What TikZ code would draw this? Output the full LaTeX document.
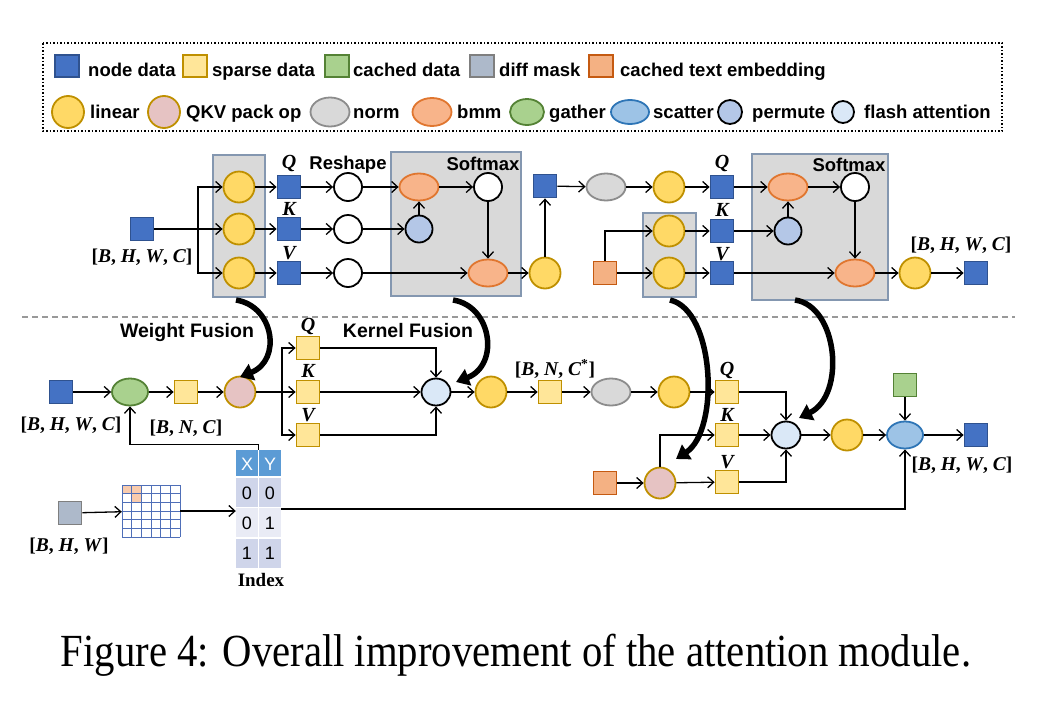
\documentclass[tikz,border=0pt]{standalone}
\usepackage{fontspec}
\setmainfont{Liberation Serif}
\setsansfont{Liberation Sans}
\usetikzlibrary{arrows.meta,shapes.geometric}
\definecolor{ndB}{HTML}{4472C4}\definecolor{ndBd}{HTML}{2F528F}
\definecolor{spY}{HTML}{FFE699}\definecolor{spYd}{HTML}{BF9000}
\definecolor{caG}{HTML}{A9D18E}\definecolor{caGd}{HTML}{548235}
\definecolor{dmG}{HTML}{ADB9CA}\definecolor{dmGd}{HTML}{7F7F7F}
\definecolor{ctO}{HTML}{F4B183}\definecolor{ctOd}{HTML}{C55A11}
\definecolor{liY}{HTML}{FFD966}
\definecolor{qkP}{HTML}{E6C3C3}
\definecolor{noG}{HTML}{D9D9D9}\definecolor{noGd}{HTML}{8C8C8C}
\definecolor{bmO}{HTML}{F8B48A}\definecolor{bmOd}{HTML}{E0762F}
\definecolor{scB}{HTML}{9DC3E6}\definecolor{scBd}{HTML}{2E75B6}
\definecolor{peB}{HTML}{B4C7E7}
\definecolor{faB}{HTML}{DAE8F7}
\definecolor{boxF}{HTML}{D9D9D9}\definecolor{boxD}{HTML}{8497B0}
\definecolor{tbH}{HTML}{5B9BD5}\definecolor{tbA}{HTML}{CFD5EA}\definecolor{tbB}{HTML}{E9EBF5}
\definecolor{grL}{HTML}{4F6FB8}\definecolor{grO}{HTML}{F8CBAD}
\begin{document}
\begin{tikzpicture}[x=1pt,y=-1pt,
  sq/.style={rectangle,minimum size=23,inner sep=0,line width=1.8pt},
  nd/.style={sq,fill=ndB,draw=ndBd},
  sp/.style={sq,fill=spY,draw=spYd},
  ca/.style={sq,fill=caG,draw=caGd},
  dm/.style={sq,fill=dmG,draw=dmGd},
  ct/.style={sq,fill=ctO,draw=ctOd},
  op/.style={inner sep=0,line width=1.8pt},
  lin/.style={op,circle,minimum size=31,fill=liY,draw=spYd},
  qkv/.style={op,circle,minimum size=31,fill=qkP,draw=spYd},
  norm/.style={op,ellipse,minimum width=39,minimum height=27,fill=noG,draw=noGd},
  bmm/.style={op,ellipse,minimum width=39,minimum height=27,fill=bmO,draw=bmOd},
  gath/.style={op,ellipse,minimum width=36,minimum height=27,fill=caG,draw=caGd},
  scat/.style={op,ellipse,minimum width=36,minimum height=27,fill=scB,draw=scBd},
  perm/.style={op,circle,minimum size=27,fill=peB,draw=black},
  fa/.style={op,ellipse,minimum width=29,minimum height=27,fill=faB,draw=black},
  wc/.style={op,circle,minimum size=28,fill=white,draw=black},
  gbox/.style={fill=boxF,draw=boxD,line width=1.2pt},
  conn/.style={-{Straight Barb[length=6pt,width=11pt]},line width=1.3pt},
  fus/.style={-{Triangle[length=13pt,width=17pt]},line width=5.5pt},
  lgt/.style={anchor=base west,inner sep=0,font=\sffamily\bfseries\fontsize{18.5}{20}\selectfont},
  lab/.style={inner sep=0,text height=13.5,text depth=4,font=\sffamily\bfseries\fontsize{18.5}{20}\selectfont},
  mth/.style={inner sep=0,font=\bfseries\fontsize{19.5}{21}\selectfont},
  qkvl/.style={inner sep=0,font=\bfseries\itshape\fontsize{20}{21}\selectfont},
  tnum/.style={inner sep=0,font=\sffamily\fontsize{18}{19}\selectfont}
]
\useasboundingbox (0,0) rectangle (1051,715);
% legend
\draw[line width=1.5pt,dotted] (43,43) rectangle (1002,131);
\node[nd,minimum width=24,minimum height=22] (L1) at (67,66) {};
\node[lgt] (L1t) at (88,76) {node data};
\node[sp,minimum width=24,minimum height=22] (L2) at (195,66) {};
\node[lgt] (L2t) at (212,76) {sparse data};
\node[ca,minimum width=24,minimum height=22] (L3) at (337,66) {};
\node[lgt] (L3t) at (353,76) {cached data};
\node[dm,minimum width=24,minimum height=22] (L4) at (482,66) {};
\node[lgt] (L4t) at (499,76) {diff mask};
\node[ct,minimum width=24,minimum height=22] (L5) at (601,66) {};
\node[lgt] (L5t) at (620,76) {cached text embedding};
\node[lin,minimum size=32] (M1) at (68,112) {};
\node[lgt] (M1t) at (90,118) {linear};
\node[qkv,minimum size=32] (M2) at (164,112) {};
\node[lgt] (M2t) at (186,118) {QKV pack op};
\node[norm,minimum height=29] (M3) at (330,112) {};
\node[lgt] (M3t) at (353,118) {norm};
\node[bmm,minimum height=28] (M4) at (432,112) {};
\node[lgt] (M4t) at (457,118) {bmm};
\node[gath,minimum width=34,minimum height=26] (M5) at (527,112) {};
\node[lgt] (M5t) at (549,118) {gather};
\node[scat,minimum width=38,minimum height=24] (M6) at (630,112) {};
\node[lgt] (M6t) at (653,118) {scatter};
\node[perm,minimum size=24] (M7) at (730,112) {};
\node[lgt] (M7t) at (752,118) {permute};
\node[fa,minimum width=22,minimum height=22] (M8) at (843,112) {};
\node[lgt] (M8t) at (864,118) {flash attention};
% top gray boxes
\draw[gbox] (213,155) rectangle (265,297);
\draw[gbox] (391,152) rectangle (521,296);
\draw[gbox] (643,213) rectangle (696,297);
\draw[gbox] (752,154) rectangle (888,300);
% top nodes
\node[nd] (in1) at (142,229) {};
\node[mth] (in1l) at (142,257) {[\textit{B}, \textit{H}, \textit{W}, \textit{C}]};
\coordinate (br) at (198,229);
\node[lin] (l1) at (239,187) {};
\node[lin] (l2) at (239,229) {};
\node[lin] (l3) at (239,273) {};
\node[nd] (q1) at (289,187) {};
\node[nd] (k1) at (289,229) {};
\node[nd] (v1) at (289,273) {};
\node[qkvl] (q1l) at (289,163) {Q};
\node[qkvl] (k1l) at (289,209) {K};
\node[qkvl] (v1l) at (289,253) {V};
\node[wc] (r1) at (348,187) {};
\node[wc] (r2) at (348,229) {};
\node[wc] (r3) at (348,273) {};
\node[lab] (resh) at (348,165) {Reshape};
\node[lab] (sm1l) at (483,166) {Softmax};
\node[bmm] (b1) at (419,187) {};
\node[perm] (p1) at (419,229) {};
\node[wc] (s1) at (488,187) {};
\node[bmm] (b2) at (488,273) {};
\node[lin] (l4) at (545,273) {};
\node[nd] (d1) at (545,186) {};
\node[norm] (n1) at (606,187) {};
\node[lin] (l5) at (669,187) {};
\node[nd] (q2) at (722,187) {};
\node[ct] (c1) at (605,273) {};
\node[lin] (l6) at (669,231) {};
\node[lin] (l7) at (669,273) {};
\node[nd] (k2) at (722,231) {};
\node[nd] (v2) at (722,273) {};
\node[qkvl] (q2l) at (722,163) {Q};
\node[qkvl] (k2l) at (722,210) {K};
\node[qkvl] (v2l) at (722,254) {V};
\node[lab] (sm2l) at (849,167) {Softmax};
\node[bmm] (b3) at (788,187) {};
\node[perm] (p2) at (788,231) {};
\node[wc] (s2) at (855,187) {};
\node[bmm] (b4) at (855,273) {};
\node[lin] (l8) at (915,273) {};
\node[nd] (o1) at (976,273) {};
\node[mth] (o1l) at (961,245) {[\textit{B}, \textit{H}, \textit{W}, \textit{C}]};
% top connectors
\draw[conn] (in1) -- (l2);
\draw[conn] (br) |- (l1);
\draw[conn] (br) |- (l3);
\draw[conn] (l1) -- (q1);
\draw[conn] (l2) -- (k1);
\draw[conn] (l3) -- (v1);
\draw[conn] (q1) -- (r1);
\draw[conn] (k1) -- (r2);
\draw[conn] (v1) -- (r3);
\draw[conn] (r1) -- (b1);
\draw[conn] (r2) -- (p1);
\draw[conn] (p1) -- (b1);
\draw[conn] (b1) -- (s1);
\draw[conn] (s1) -- (b2);
\draw[conn] (r3) -- (b2);
\draw[conn] (b2) -- (l4);
\draw[conn] (l4) -- (d1);
\draw[conn] (d1) -- (n1);
\draw[conn] (n1) -- (l5);
\draw[conn] (l5) -- (q2);
\draw[conn] (c1.north) |- (l6);
\draw[conn] (c1) -- (l7);
\draw[conn] (l6) -- (k2);
\draw[conn] (l7) -- (v2);
\draw[conn] (q2) -- (b3);
\draw[conn] (k2) -- (p2);
\draw[conn] (p2) -- (b3);
\draw[conn] (b3) -- (s2);
\draw[conn] (s2) -- (b4);
\draw[conn] (v2) -- (b4);
\draw[conn] (b4) -- (l8);
\draw[conn] (l8) -- (o1);
% dashed separator
\draw[dashed,dash pattern=on 6pt off 4pt,line width=1.2pt,color=black!40] (22,317) -- (1015,317);
% bottom nodes
\node[nd] (in2) at (61,392) {};
\node[mth] (in2l) at (71,425) {[\textit{B}, \textit{H}, \textit{W}, \textit{C}]};
\node[gath] (g1) at (130,392) {};
\node[sp] (sp1) at (186,392) {};
\node[mth] (sp1l) at (186,428) {[\textit{B}, \textit{N}, \textit{C}]};
\node[qkv] (pk1) at (240,392) {};
\node[lab,font=\sffamily\bfseries\fontsize{19.5}{21}\selectfont] (wf) at (187,333) {Weight Fusion};
\coordinate (br2) at (282,392);
\node[sp] (bq1) at (308,348) {};
\node[sp] (bk1) at (308,392) {};
\node[sp] (bv1) at (308,435) {};
\node[qkvl] (bq1l) at (308,326) {Q};
\node[qkvl] (bk1l) at (308,371) {K};
\node[qkvl] (bv1l) at (308,415) {V};
\node[lab,font=\sffamily\bfseries\fontsize{19.5}{21}\selectfont] (kf) at (408,333) {Kernel Fusion};
\node[fa] (fa1) at (436,392) {};
\node[lin] (l9) at (491,392) {};
\node[sp] (sp2) at (550,392) {};
\node[mth] (sp2l) at (555,369) {[\textit{B}, \textit{N}, \textit{C}\textsuperscript{*}]};
\node[norm] (n2) at (611,392) {};
\node[lin] (l10) at (674,392) {};
\node[sp] (bq2) at (727,392) {};
\node[sp] (bk2) at (727,435) {};
\node[sp] (bv2) at (727,482) {};
\node[qkvl] (bq2l) at (727,370) {Q};
\node[qkvl] (bk2l) at (727,415) {K};
\node[qkvl] (bv2l) at (727,462) {V};
\node[ct] (c2) at (605,483) {};
\node[qkv] (pk2) at (660,483) {};
\node[fa] (fa2) at (786,435) {};
\node[lin] (l11) at (847,435) {};
\node[scat] (sc) at (905,435) {};
\node[ca] (gr) at (905,385) {};
\node[nd] (o2) at (976,435) {};
\node[mth] (o2l) at (962,465) {[\textit{B}, \textit{H}, \textit{W}, \textit{C}]};
% diff mask, grid, index table
\node[dm] (dmk) at (70,513) {};
\node[mth] (dmkl) at (69,546) {[\textit{B}, \textit{H}, \textit{W}]};
\node[minimum width=58,minimum height=52,inner sep=0] (grid) at (151,511) {};
\fill[grO] (122,485) rectangle (141.33,493.67);
\fill[grO] (131.67,493.67) rectangle (141.33,502.33);
\foreach \i in {0,...,6} {
  \draw[grL,line width=0.6pt] (122+\i*9.667,485) -- (122+\i*9.667,537);
  \draw[grL,line width=0.6pt] (122,485+\i*8.667) -- (180,485+\i*8.667);
}
\node[minimum width=45,minimum height=118,inner sep=0] (tbl) at (258.5,509) {};
\fill[tbH] (236,450) rectangle (281,477);
\fill[tbA] (236,477) rectangle (281,507.5);
\fill[tbB] (236,507.5) rectangle (281,538);
\fill[tbA] (236,538) rectangle (281,568);
\draw[white,line width=1.2pt] (258.5,450) -- (258.5,568);
\draw[white,line width=1.2pt] (236,477) -- (281,477);
\draw[white,line width=1.2pt] (236,507.5) -- (281,507.5);
\draw[white,line width=1.2pt] (236,538) -- (281,538);
\node[tnum,text=white] (tx) at (247,464) {X};
\node[tnum,text=white] (ty) at (270,464) {Y};
\node[tnum] (t11) at (247,493) {0};
\node[tnum] (t12) at (270,493) {0};
\node[tnum] (t21) at (247,523) {0};
\node[tnum] (t22) at (270,523) {1};
\node[tnum] (t31) at (247,553) {1};
\node[tnum] (t32) at (270,553) {1};
\node[inner sep=0,font=\bfseries\fontsize{19}{20}\selectfont] (idx) at (261,580) {Index};
% bottom connectors
\draw[conn] (in2) -- (g1);
\draw[conn] (g1) -- (sp1);
\draw[conn] (sp1) -- (pk1);
\draw[line width=1.3pt] (pk1) -- (br2);
\draw[conn] (br2) |- (bq1);
\draw[conn] (br2) -- (bk1);
\draw[conn] (br2) |- (bv1);
\draw[conn] (bq1) -| (fa1);
\draw[conn] (bk1) -- (fa1);
\draw[conn] (bv1) -| (fa1);
\draw[conn] (fa1) -- (l9);
\draw[conn] (l9) -- (sp2);
\draw[conn] (sp2) -- (n2);
\draw[conn] (n2) -- (l10);
\draw[conn] (l10) -- (bq2);
\draw[conn] (bq2) -| (fa2);
\draw[conn] (bk2) -- (fa2);
\draw[conn] (bv2) -| (fa2);
\draw[conn] (c2) -- (pk2);
\draw[conn] (pk2.north) |- (bk2);
\draw[conn] (pk2) -- (bv2);
\draw[conn] (fa2) -- (l11);
\draw[conn] (l11) -- (sc);
\draw[conn] (gr) -- (sc);
\draw[conn] (sc) -- (o2);
\draw[conn] (dmk) -- (grid);
\draw[conn] (grid.east) -- (tbl.west |- grid.east);
\draw[conn] (tbl.north) -- ++(0,-5) -| (g1);
\draw[conn] (tbl.east) -| (sc);
% fusion arrows
\coordinate (fs1) at (236,300);
\coordinate (fe1) at (240,377);
\draw[fus] (fs1) .. controls (274,306) and (282,360) .. (fe1);
\coordinate (fs2) at (453,300);
\coordinate (fe2) at (456,382);
\draw[fus] (fs2) .. controls (492,306) and (500,365) .. (fe2);
\coordinate (fs3) at (670,300);
\coordinate (fe3) at (676,459);
\draw[fus] (fs3) .. controls (715,310) and (720,430) .. (fe3);
\coordinate (fs4) at (795,300);
\coordinate (fe4) at (799,418);
\draw[fus] (fs4) .. controls (838,306) and (846,395) .. (fe4);
% caption
\node[anchor=base,inner sep=0,font=\fontsize{46}{48}\selectfont] (cap) at (516,666) {\scalebox{0.885}[1]{Figure 4: Overall improvement of the attention module.}};
\end{tikzpicture}
\end{document}
